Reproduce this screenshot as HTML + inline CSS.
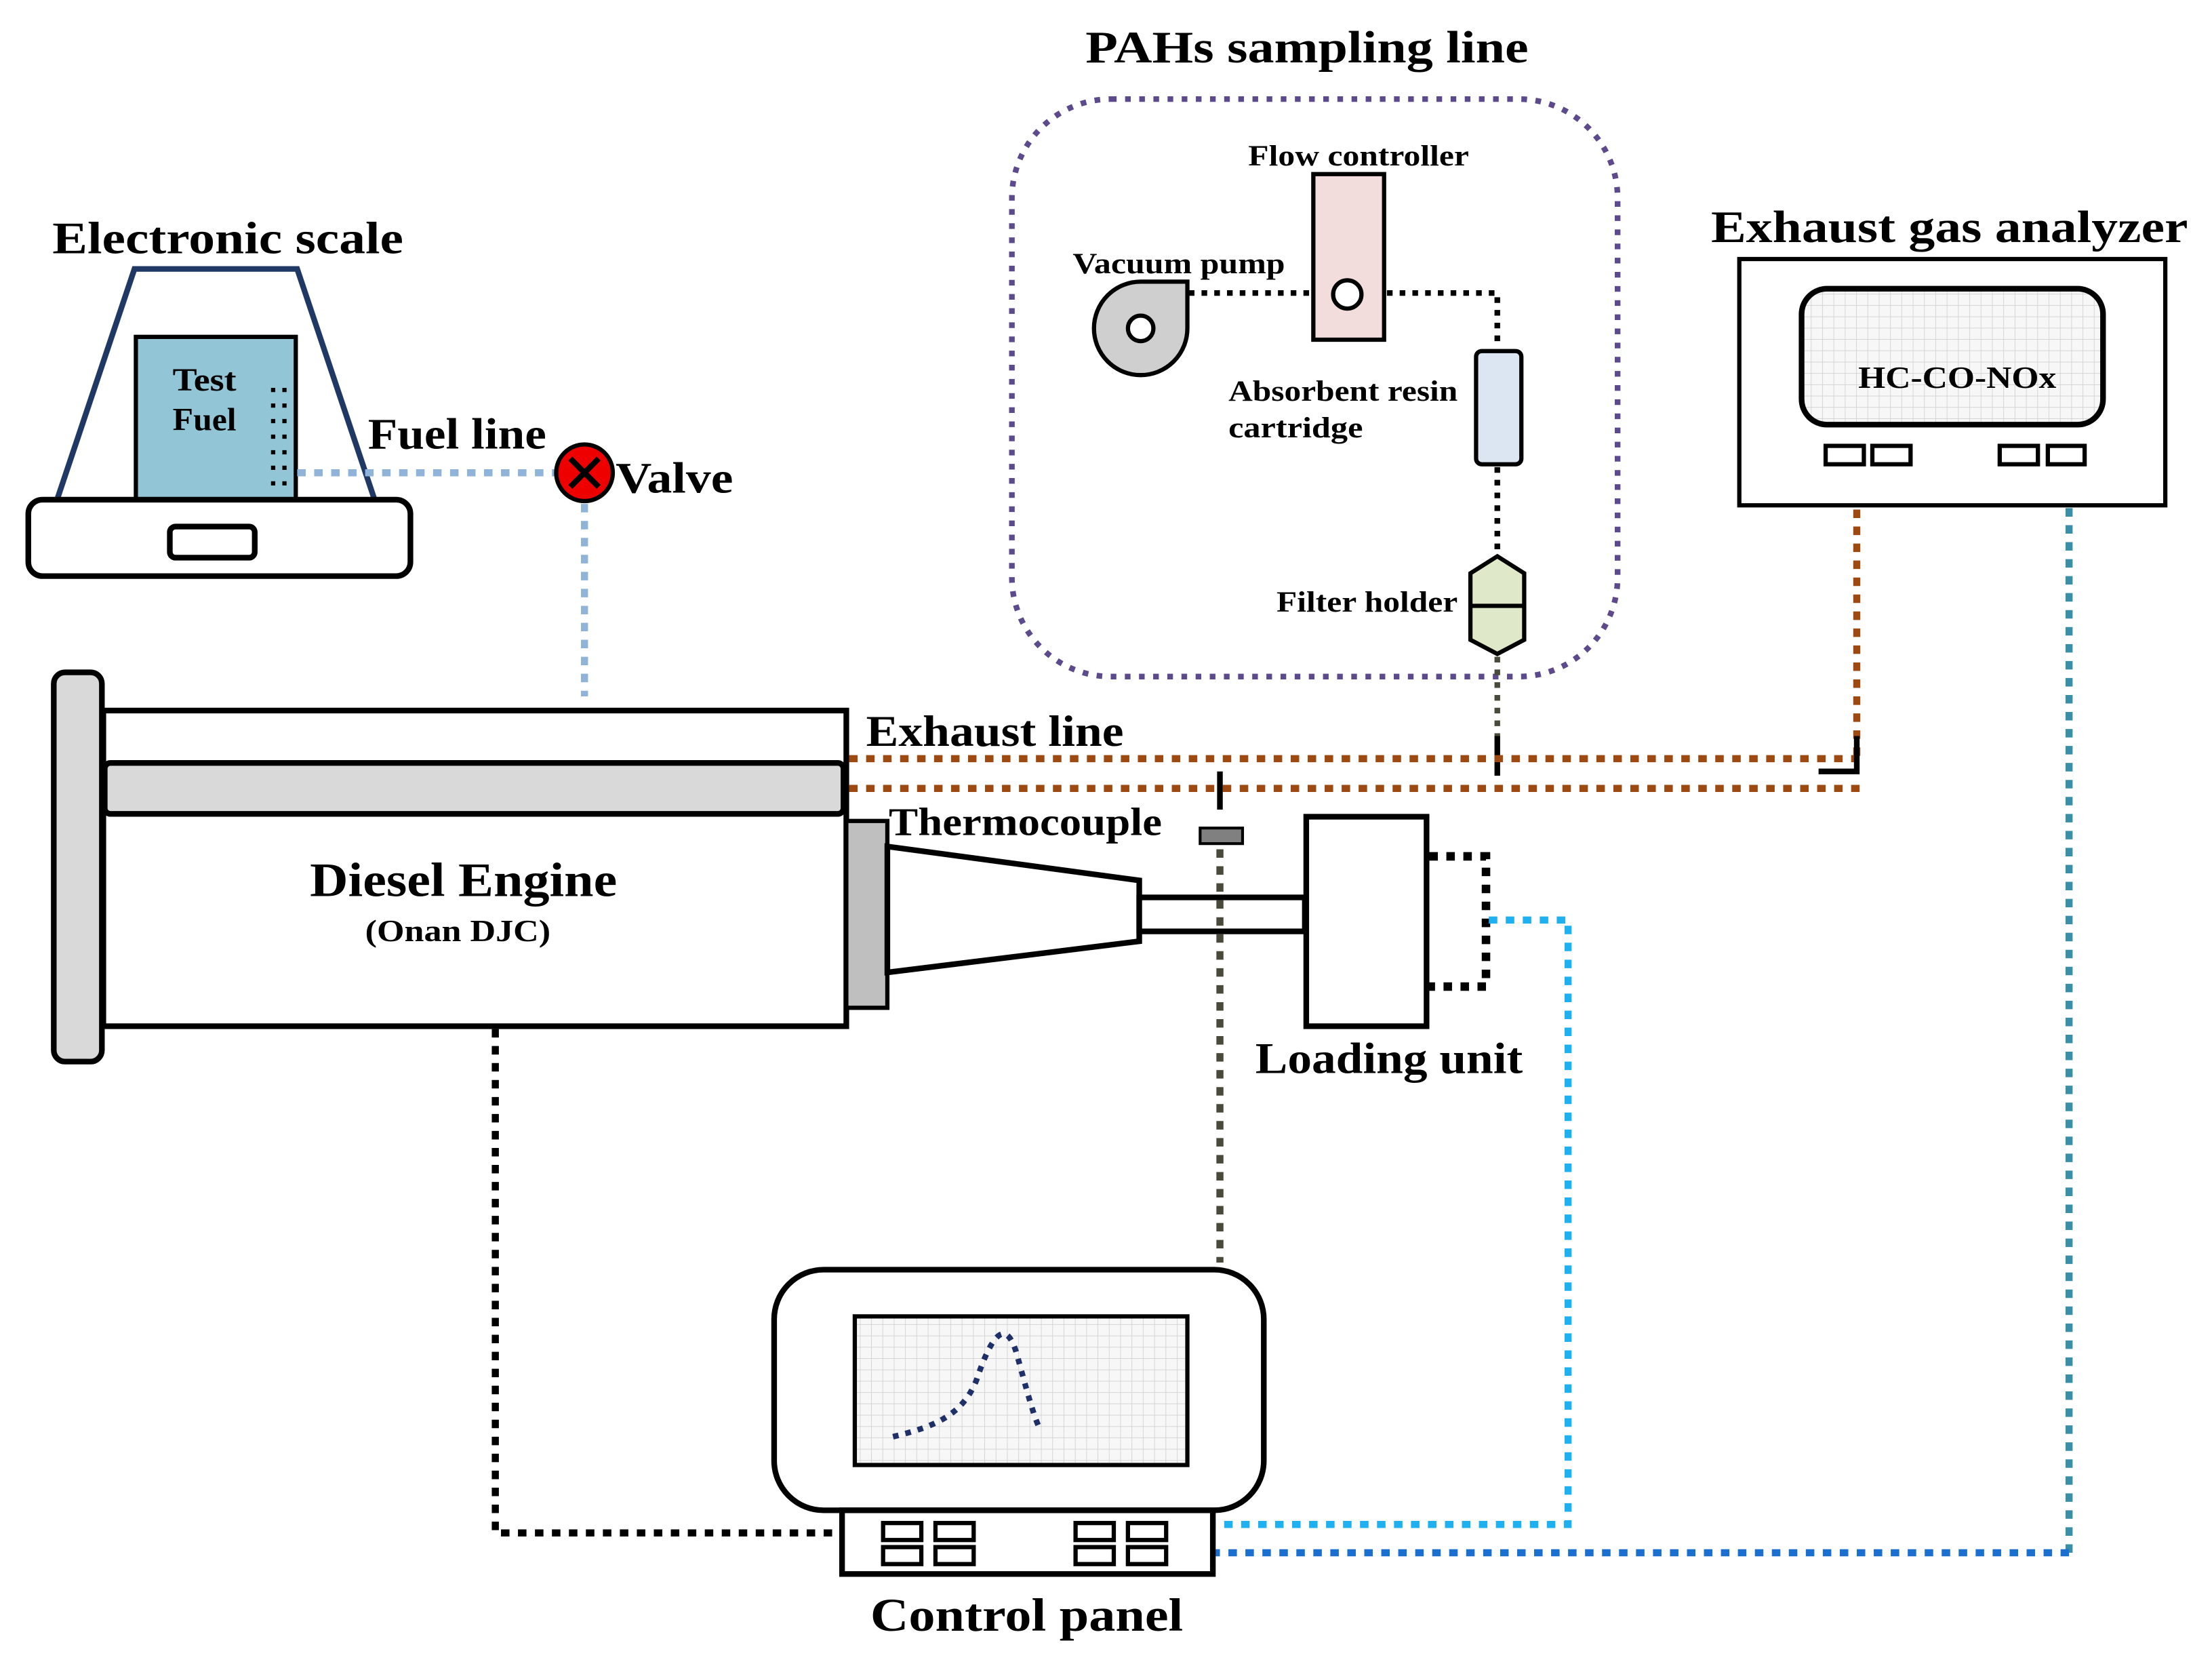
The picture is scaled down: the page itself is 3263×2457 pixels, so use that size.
<!DOCTYPE html>
<html><head><meta charset="utf-8"><style>
html,body{margin:0;padding:0;background:#fff;}
svg{display:block;}
text{font-family:"Liberation Serif",serif;font-weight:bold;fill:#000;}
</style></head><body>
<svg width="3263" height="2457" viewBox="0 0 1563 1177" preserveAspectRatio="none" xmlns="http://www.w3.org/2000/svg">
<defs>
<pattern id="grid" width="8" height="8" patternUnits="userSpaceOnUse">
<rect width="8" height="8" fill="#f7f7f7"/>
<path d="M8 0V8M0 8H8" stroke="#d0d0d0" stroke-width="0.8"/>
</pattern>
</defs>
<rect width="1563" height="1177" fill="#fff"/>

<!-- PAHs sampling line -->
<text x="767" y="44" font-size="32" textLength="313" lengthAdjust="spacingAndGlyphs">PAHs sampling line</text>
<rect x="715" y="70" width="428" height="408" rx="70" fill="none" stroke="#5c4a8c" stroke-width="4" stroke-dasharray="4 6"/>
<text x="882" y="117" font-size="21" textLength="156" lengthAdjust="spacingAndGlyphs">Flow controller</text>
<rect x="928" y="123" width="50" height="117" fill="#f2dcdc" stroke="#000" stroke-width="3"/>
<circle cx="952" cy="208" r="10" fill="#fff" stroke="#000" stroke-width="3"/>
<text x="758" y="193" font-size="21" textLength="150" lengthAdjust="spacingAndGlyphs">Vacuum pump</text>
<path d="M806 199 A33 33 0 1 0 839 232 L839 199 Z" fill="#cfcfcf" stroke="#000" stroke-width="3"/>
<circle cx="806" cy="232" r="9" fill="#fff" stroke="#000" stroke-width="3"/>
<path d="M840 207H926M980 207H1058V246" fill="none" stroke="#000" stroke-width="4" stroke-dasharray="4 5"/>
<text x="868" y="283" font-size="21" textLength="162" lengthAdjust="spacingAndGlyphs">Absorbent resin</text>
<text x="868" y="309" font-size="21" textLength="95" lengthAdjust="spacingAndGlyphs">cartridge</text>
<rect x="1043" y="248" width="32" height="80" rx="4" fill="#dce6f2" stroke="#000" stroke-width="3"/>
<path d="M1058 330V392" stroke="#000" stroke-width="4" stroke-dasharray="4 5"/>
<text x="902" y="432" font-size="21" textLength="128" lengthAdjust="spacingAndGlyphs">Filter holder</text>
<polygon points="1058,393 1077,405 1077,452 1058,462 1039,452 1039,405" fill="#dfe8c8" stroke="#000" stroke-width="3"/>
<line x1="1039" y1="428" x2="1077" y2="428" stroke="#000" stroke-width="3"/>
<path d="M1058 464V520" stroke="#4a4a3a" stroke-width="4" stroke-dasharray="4 5"/>
<line x1="1058" y1="520" x2="1058" y2="548" stroke="#000" stroke-width="4"/>

<!-- Exhaust line -->
<text x="612" y="527" font-size="31" textLength="182" lengthAdjust="spacingAndGlyphs">Exhaust line</text>
<path d="M600 536H1312M600 557H1316M1312 360V536" fill="none" stroke="#9c4a12" stroke-width="5" stroke-dasharray="6 6"/>
<path d="M1285 545H1312V520" fill="none" stroke="#000" stroke-width="4"/>

<!-- Exhaust gas analyzer -->
<text x="1209" y="171" font-size="32" textLength="337" lengthAdjust="spacingAndGlyphs">Exhaust gas analyzer</text>
<rect x="1229" y="183" width="301" height="174" fill="#fff" stroke="#000" stroke-width="3"/>
<rect x="1273" y="204" width="213" height="96" rx="18" fill="url(#grid)" stroke="#000" stroke-width="4"/>
<text x="1313" y="274" font-size="22" textLength="140" lengthAdjust="spacingAndGlyphs">HC-CO-NOx</text>
<g fill="#fff" stroke="#000" stroke-width="3">
<rect x="1290" y="315" width="27" height="13"/><rect x="1323" y="315" width="27" height="13"/>
<rect x="1413" y="315" width="27" height="13"/><rect x="1447" y="315" width="26" height="13"/>
</g>
<path d="M1462 359V1097" stroke="#3a8fa8" stroke-width="5" stroke-dasharray="6 6"/>
<path d="M1462 1097H858" stroke="#1a6fcf" stroke-width="5" stroke-dasharray="6 6"/>

<!-- Electronic scale -->
<text x="37" y="179" font-size="32" textLength="248" lengthAdjust="spacingAndGlyphs">Electronic scale</text>
<polygon points="40,354 95,190 210,190 265,354" fill="#fff" stroke="#1f3864" stroke-width="4"/>
<rect x="96" y="238" width="113" height="115" fill="#92c5d6" stroke="#000" stroke-width="3"/>
<text x="122" y="276" font-size="23" textLength="45" lengthAdjust="spacingAndGlyphs">Test</text>
<text x="122" y="304" font-size="23" textLength="45" lengthAdjust="spacingAndGlyphs">Fuel</text>
<path d="M193 274V345M201 274V345" stroke="#000" stroke-width="3" stroke-dasharray="3 8"/>
<rect x="20" y="353" width="270" height="54" rx="10" fill="#fff" stroke="#000" stroke-width="4"/>
<rect x="120" y="372" width="60" height="22" rx="4" fill="#fff" stroke="#000" stroke-width="4"/>
<text x="260" y="317" font-size="31" textLength="126" lengthAdjust="spacingAndGlyphs">Fuel line</text>
<path d="M210 334H393M413 356V492" stroke="#8fb3d9" stroke-width="5" stroke-dasharray="6 6"/>
<circle cx="413" cy="334" r="20" fill="#e00" stroke="#000" stroke-width="3"/>
<path d="M403 324L423 344M423 324L403 344" stroke="#000" stroke-width="4"/>
<text x="435" y="348" font-size="31" textLength="83" lengthAdjust="spacingAndGlyphs">Valve</text>

<!-- Engine -->
<rect x="38" y="475" width="34" height="275" rx="8" fill="#d9d9d9" stroke="#000" stroke-width="4"/>
<rect x="73" y="502" width="525" height="223" fill="#fff" stroke="#000" stroke-width="4"/>
<rect x="74" y="539" width="522" height="36" rx="4" fill="#d9d9d9" stroke="#000" stroke-width="4"/>
<text x="219" y="633" font-size="34" textLength="217" lengthAdjust="spacingAndGlyphs">Diesel Engine</text>
<text x="258" y="665" font-size="22" textLength="131" lengthAdjust="spacingAndGlyphs">(Onan DJC)</text>
<rect x="598" y="580" width="29" height="132" fill="#bfbfbf" stroke="#000" stroke-width="3"/>
<polygon points="627,598 805,622 805,665 627,687" fill="#fff" stroke="#000" stroke-width="4"/>
<rect x="805" y="634" width="117" height="24" fill="#fff" stroke="#000" stroke-width="4"/>
<rect x="923" y="577" width="85" height="148" fill="#fff" stroke="#000" stroke-width="4"/>
<text x="887" y="758" font-size="31" textLength="189" lengthAdjust="spacingAndGlyphs">Loading unit</text>
<path d="M1010 605H1050V697H1010" fill="none" stroke="#000" stroke-width="6" stroke-dasharray="6 6"/>
<path d="M1052 650H1108V1077H858" fill="none" stroke="#1fb0f0" stroke-width="5" stroke-dasharray="6 6"/>

<!-- Thermocouple -->
<text x="628" y="590" font-size="28" textLength="193" lengthAdjust="spacingAndGlyphs">Thermocouple</text>
<line x1="862" y1="545" x2="862" y2="572" stroke="#000" stroke-width="4"/>
<rect x="848" y="585" width="30" height="11" fill="#808080" stroke="#000" stroke-width="2"/>
<path d="M862 600V892" stroke="#4a4a3a" stroke-width="5" stroke-dasharray="6 6"/>

<path d="M350 727V1083H595" fill="none" stroke="#000" stroke-width="5" stroke-dasharray="6 6"/>

<!-- Control panel -->
<rect x="547" y="897" width="346" height="170" rx="35" fill="#fff" stroke="#000" stroke-width="4"/>
<rect x="604" y="930" width="235" height="105" fill="url(#grid)" stroke="#000" stroke-width="3"/>
<path d="M631 1015 C660 1008 680 1000 690 975 C700 945 710 930 718 955 C725 980 730 1000 735 1010" fill="none" stroke="#1f3068" stroke-width="4" stroke-dasharray="4 5"/>
<rect x="595" y="1067" width="262" height="45" fill="#fff" stroke="#000" stroke-width="4"/>
<g fill="#fff" stroke="#000" stroke-width="3">
<rect x="624" y="1076" width="27" height="12"/><rect x="661" y="1076" width="27" height="12"/>
<rect x="624" y="1093" width="27" height="12"/><rect x="661" y="1093" width="27" height="12"/>
<rect x="760" y="1076" width="27" height="12"/><rect x="797" y="1076" width="27" height="12"/>
<rect x="760" y="1093" width="27" height="12"/><rect x="797" y="1093" width="27" height="12"/>
</g>
<text x="615" y="1152" font-size="33" textLength="221" lengthAdjust="spacingAndGlyphs">Control panel</text>
</svg>
</body></html>
